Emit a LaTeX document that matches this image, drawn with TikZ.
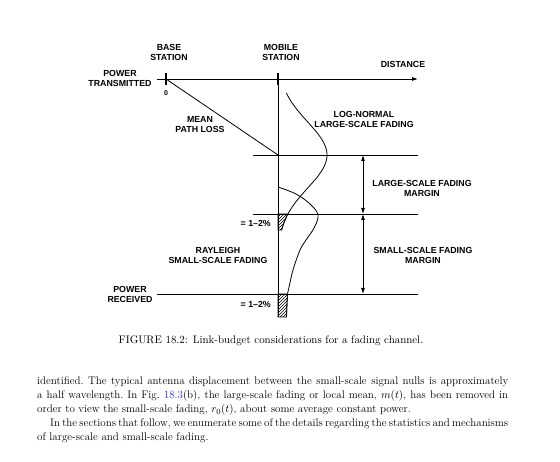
\documentclass[tikz,border=0pt]{standalone}
\usepackage{fontspec}
\setsansfont{Liberation Sans}
\usetikzlibrary{arrows.meta}
\usetikzlibrary{patterns}
\definecolor{linkblue}{RGB}{40,40,230}

\tikzset{
    lbl/.style={font=\sffamily\bfseries\fontsize{8.8}{10}\selectfont, align=center, inner sep=0pt},
    axis/.style={line width=0.8pt},
    tickmark/.style={line width=2.6pt},
    hatch/.style={draw, line width=0.6pt, pattern=north east lines},
    capt/.style={font=\fontsize{10.9}{14}\selectfont, inner sep=0pt},
    para/.style={font=\fontsize{11}{14}\selectfont, text width=471pt, align=justify, inner sep=0pt},
}

\begin{document}
\begin{tikzpicture}[x=1pt, y=-1pt, >={Latex[length=6pt,width=4pt]}]
    \useasboundingbox (0,0) rectangle (560,462);

    % reference points on the power axis
    \coordinate (tx0) at (157,79);
    \coordinate (dist) at (418,79);
    \coordinate (bs) at (166,79);
    \coordinate (ms) at (278,79);
    \coordinate (mean) at (278,155);
    \coordinate (thr) at (278,214);
    \coordinate (rx) at (278,294);
    \coordinate (msb) at (278,317);
    \coordinate (m0) at (253,155);
    \coordinate (m1) at (418,155);
    \coordinate (t0) at (253,214);
    \coordinate (t1) at (418,214);
    \coordinate (r0) at (157,294);
    \coordinate (r1) at (418,294);
    \coordinate (d0) at (363,155);
    \coordinate (d1) at (363,214);
    \coordinate (d2) at (363,294);

    % axes and levels
    \draw[axis, ->] (tx0) -- (dist);
    \draw[tickmark] (bs) ++(0,-6) -- ++(0,12);
    \draw[tickmark] (ms) ++(0,-6) -- ++(0,12);
    \draw[axis] (ms) -- (msb);
    \draw[axis] (bs) -- (mean);
    \draw[axis] (m0) -- (m1);
    \draw[axis] (t0) -- (t1);
    \draw[axis] (r0) -- (r1);

    % margins
    \draw[axis, <->] (d0) -- (d1);
    \draw[axis, <->] (d1) -- (d2);

    % log-normal and Rayleigh densities
    \draw[hatch] (thr) -- plot[domain=214:230, samples=9] ({278+49*exp(-((\x-155)^2)/2178)}, \x) -- (278,230) -- cycle;
    \draw[hatch] (rx) -- (287.5,294) -- (286.5,317) -- (msb) -- cycle;
    \draw[axis] plot[domain=93:230, samples=60, smooth] ({278+49*exp(-((\x-155)^2)/2178)}, \x);
    \draw[axis] plot[smooth, tension=0.6] coordinates {(278,187) (296,194) (310,204) (318,215) (314,228) (306,240) (300,250) (293,270) (289.5,285) (287.5,294) (286.5,317)};

    % labels
    \node[lbl] (bsl) at (169,52) {BASE\\STATION};
    \node[lbl] (msl) at (281,52) {MOBILE\\STATION};
    \node[lbl] (ptx) at (120,78) {POWER\\TRANSMITTED};
    \node[lbl, font=\sffamily\bfseries\fontsize{7}{8}\selectfont] (zero) at (166,93) {0};
    \node[lbl] (dst) at (403,64) {DISTANCE};
    \node[lbl] (mpl) at (200,125) {MEAN\\PATH LOSS};
    \node[lbl] (lnf) at (364,119) {LOG-NORMAL\\LARGE-SCALE FADING};
    \node[lbl] (lfm) at (422,188) {LARGE-SCALE FADING\\MARGIN};
    \node[lbl] (sfm) at (423,255) {SMALL-SCALE FADING\\MARGIN};
    \node[lbl] (ray) at (218,255) {RAYLEIGH\\SMALL-SCALE FADING};
    \node[lbl] (prx) at (130,294) {POWER\\RECEIVED};
    \node[lbl, anchor=east] (pc1) at (271,223) {= 1–2\%};
    \node[lbl, anchor=east] (pc2) at (271,304) {= 1–2\%};

    % caption and running text
    \node[capt] (cap) at (271,341) {FIGURE 18.2: Link-budget considerations for a fading channel.};
    \node[para, anchor=north west] (txt) at (37,377) {\hyphenpenalty=10000\relax identified.\ The typical antenna displacement between the small-scale signal nulls is approximately\linebreak
    a half wavelength.\ In Fig.~\textcolor{linkblue}{18.3}(b), the large-scale fading or local mean, $m(t)$, has been removed in\linebreak
    order to view the small-scale fading, $r_0(t)$, about some average constant power.\par
    \hspace*{13pt}{\spaceskip=0.2em plus 0.1em minus 0.1em In the sections that follow, we enumerate some of the details regarding the statistics and mechanisms}\linebreak
    of large-scale and small-scale fading.};
\end{tikzpicture}
\end{document}
